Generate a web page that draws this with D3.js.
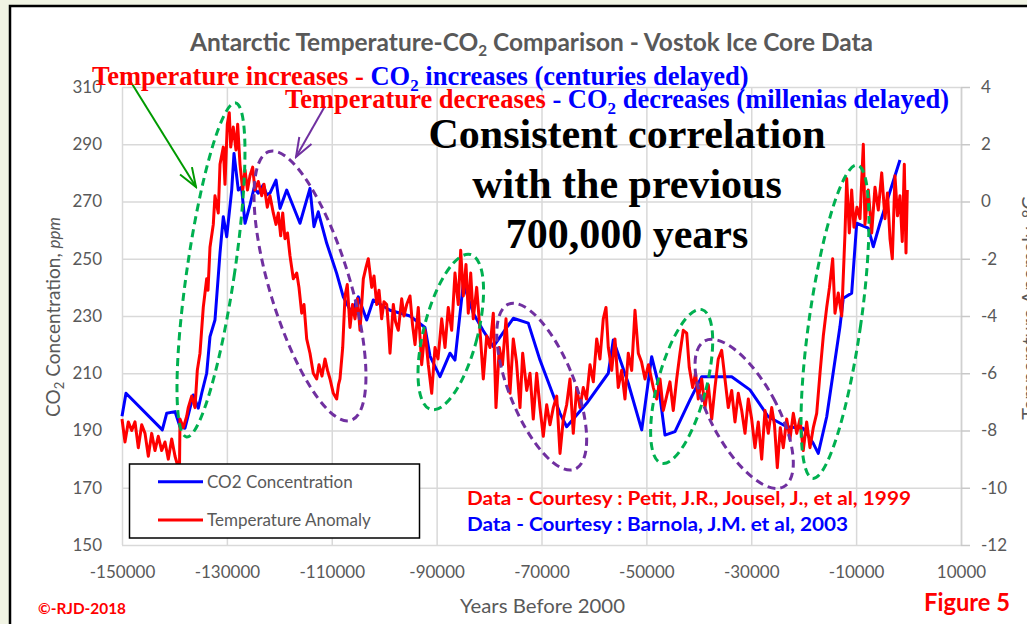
<!DOCTYPE html>
<html><head><meta charset="utf-8">
<script src="https://cdn.jsdelivr.net/npm/d3@7/dist/d3.min.js"></script>
<style>
html,body{margin:0;padding:0;background:#f1f4e4;overflow:hidden;}
svg{display:block;}
</style></head><body>
<svg id="c" width="1027" height="624"></svg>
<script>
// ---------------- DATA ----------------
const seriesNames = ["CO2 Concentration", "Temperature Anomaly"];
const xTicks = [-150000,-130000,-110000,-90000,-70000,-50000,-30000,-10000,10000];
const leftTicks = [150,170,190,210,230,250,270,290,310];
const rightTicks = [-12,-10,-8,-6,-4,-2,0,2,4];

// CO2 (ppm) - Barnola et al. 2003
const co2Years = [
-150000,-149240,-142310,-141480,-139890,-138940,-137990,-136400,-135450,-134800,
-133850,-133220,-132270,-131310,-130680,-130030,-129080,-128640,-127820,-127210,
-126540,-125590,-124830,-124010,-123050,-122410,-121780,-120630,-119870,-118590,
-116060,-114150,-113390,-112570,-110960,-109060,-107800,-106200,-104940,-103340,
-102080,-98890,-95080,-92220,-91260,-89360,-87450,-86500,-84910,-83010,
-81160,-79190,-75380,-72520,-70290,-66470,-65200,-61380,-57260,-56310,
-53450,-50890,-48990,-47730,-46450,-44540,-41680,-39450,-33730,-30240,
-26750,-23240,-20080,-18170,-17220,-15610,-13080,-12450,-10850,-9890,
-7680,-6730,-5450,-1640];
const co2Values = [
195,203,190.2,196,196.6,191.3,190.8,202.4,197.8,203,
210,222.8,228.6,252,264.7,257.7,274,286.8,274,275,
262.4,268.8,274.6,272.9,275.8,272.3,272.9,277.5,267.6,274,
262.4,274.6,261.2,266.4,255.4,244.9,236.7,231,236.7,228.6,
235.6,232,230,226,216,208.8,217,214.6,241.4,231,
225,219.3,229.2,227.5,214.6,196,191.3,199.5,210,221.6,
206.5,190.2,215.8,206.5,188.4,189.6,200.7,208.8,208.8,204.2,
194.8,191.3,190.8,185.5,182,194.8,226.3,236.2,238,262.4,
260.7,254.2,262.4,284.5];

// Temperature anomaly (deg C) - Petit et al. 1999
const tempYears = [
-150000,-149430,-148800,-148150,-147520,-146890,-146240,-145610,-144980,-144340,
-143710,-143080,-142430,-141800,-141170,-140520,-139890,-139260,-139030,-138940,
-138310,-137660,-137360,-136710,-136080,-135640,-135130,-134500,-133850,-133600,
-133220,-132590,-132270,-131640,-131310,-130680,-130360,-129920,-129540,-129270,
-128780,-128260,-127940,-127500,-126980,-126540,-126070,-125590,-125080,-124640,
-124010,-123360,-122920,-122290,-121780,-121150,-120630,-120190,-119740,-119350,
-118920,-118440,-117960,-117330,-116680,-116250,-115730,-115290,-114780,-114150,
-113520,-112870,-112430,-111860,-111290,-110810,-110330,-109700,-109060,-108710,
-108430,-107910,-107470,-107040,-106520,-106040,-105570,-105090,-104610,-103980,
-103470,-103030,-102380,-101940,-101430,-100990,-100480,-100040,-99520,-99180,
-98890,-98260,-97840,-97310,-96660,-96220,-95710,-95080,-94600,-94120,
-93500,-92850,-92220,-91590,-90940,-90310,-89740,-89030,-88400,-87780,
-87130,-86500,-85870,-85410,-84910,-84400,-83960,-83500,-83010,-82360,
-81730,-81100,-80450,-79820,-79190,-78680,-78050,-77440,-76770,-76010,
-75380,-74770,-74100,-73590,-72820,-72190,-71570,-70920,-70290,-69660,
-69010,-68380,-67750,-67100,-66470,-65840,-65200,-64570,-63940,-63290,
-62660,-62030,-61420,-60750,-60120,-59470,-58850,-58220,-57700,-57260,
-56610,-55990,-55360,-54710,-54080,-53450,-52800,-52170,-51540,-50930,
-50260,-49600,-48680,-48030,-47400,-46770,-46130,-45500,-44870,-44220,
-43590,-42960,-42310,-41820,-41170,-40630,-40100,-39450,-38820,-38190,
-37540,-36920,-36290,-35640,-35010,-34380,-33730,-33100,-32470,-31820,
-31190,-30560,-29920,-29290,-28660,-28010,-27380,-26750,-26100,-25570,
-25030,-24460,-23890,-23240,-22610,-21980,-21330,-20710,-20080,-19430,
-18800,-18170,-17520,-16890,-16260,-15610,-15080,-14470,-14030,-13400,
-12750,-12120,-11800,-11300,-10850,-10410,-9840,-9260,-8630,-8310,
-7680,-7030,-6400,-5770,-5120,-4500,-4020,-3540,-3100,-2590,
-2110,-1640,-1200,-810,-490,-240];
const tempValues = [
-7.6,-8.4,-7.7,-8.0,-7.7,-8.6,-7.8,-8.1,-8.9,-8.1,
-8.7,-8.2,-8.7,-8.4,-9.0,-8.3,-8.9,-9.3,-9.2,-7.6,
-7.9,-7.5,-7.2,-6.8,-7.2,-5.9,-5.3,-3.7,-2.7,-3.1,
-1.6,-0.8,0.2,-0.4,1.3,1.9,0.6,2.7,3.1,1.9,
2.6,1.8,2.7,1.3,0.4,1.1,0.4,0.9,1.2,0.4,
0.7,0.2,0.6,-0.2,0.2,-0.4,-0.8,-0.4,-1.2,-0.4,
-1.3,-1.1,-1.9,-2.7,-2.5,-3.0,-3.9,-3.6,-4.8,-5.3,
-6.0,-6.2,-5.7,-6.1,-5.5,-5.9,-6.2,-6.7,-6.9,-6.4,
-6.2,-5.1,-3.3,-2.9,-4.4,-3.6,-4.1,-3.4,-4.5,-2.7,
-2.3,-2.0,-3.0,-2.6,-3.6,-3.1,-4.1,-3.5,-3.6,-4.4,
-5.3,-3.6,-4.2,-4.5,-3.4,-4.0,-3.6,-3.3,-4.3,-5.0,
-3.7,-5.7,-4.5,-5.7,-6.7,-5.1,-5.5,-4.1,-5.1,-3.7,
-4.5,-2.5,-3.6,-1.7,-3.3,-2.2,-3.9,-2.5,-4.1,-3.0,
-4.5,-6.2,-4.7,-5.1,-3.9,-7.2,-5.1,-5.7,-4.1,-6.7,
-4.8,-5.6,-7.2,-5.3,-6.6,-6.0,-7.6,-6.0,-7.2,-8.2,
-7.1,-7.8,-7.2,-6.8,-8.8,-7.6,-7.1,-6.2,-8.1,-6.5,
-7.2,-6.5,-6.9,-5.7,-6.3,-4.8,-5.5,-4.1,-3.7,-5.1,
-5.9,-4.8,-6.5,-5.9,-6.9,-5.3,-5.9,-3.8,-5.3,-5.6,
-6.2,-5.7,-6.5,-6.9,-6.2,-7.3,-6.8,-6.3,-7.3,-6.2,
-5.3,-4.5,-4.6,-5.8,-6.5,-6.0,-6.9,-6.2,-7.2,-6.4,
-7.6,-6.5,-5.5,-5.2,-6.2,-7.2,-6.6,-7.7,-6.7,-7.3,
-8.1,-6.9,-7.6,-8.6,-7.7,-9.0,-7.3,-8.1,-7.2,-7.8,
-9.3,-7.9,-8.6,-7.6,-8.3,-7.4,-8.1,-7.6,-8.7,-7.7,
-8.6,-7.9,-7.4,-6.0,-4.7,-3.7,-3.0,-2.0,-3.9,-3.2,
-4.0,-1.1,0.8,-1.1,0.4,-0.9,-0.2,-0.6,2.0,-0.8,
0.4,-1.1,0.5,-0.3,1.0,-0.6,0.3,-1.3,-2.0,0.9,
-0.5,0.2,-1.4,1.3,-1.8,0.4];

// ---------------- LAYOUT ----------------
const svg = d3.select("#c");
const M = {l:122, r:961, t:87, b:545};
const x = d3.scaleLinear().domain([-150000,10000]).range([M.l, M.r]);
const yL = d3.scaleLinear().domain([150,310]).range([M.b, M.t]);
const yR = d3.scaleLinear().domain([-12,4]).range([M.b, M.t]);

const GRAY = "#595959", RED = "#ff0000", BLUE = "#0000ff";
const SANS = "Lato, 'Open Sans', sans-serif";
const SERIF = "'Liberation Serif', 'Times New Roman', serif";

// panel
svg.append("rect").attr("x",10).attr("y",6).attr("width",1040).attr("height",640)
  .attr("fill","#fff").attr("stroke","#000").attr("stroke-width",2.5);

// gridlines
svg.append("g").attr("transform",`translate(${M.l},0)`)
  .call(d3.axisLeft(yL).tickValues(leftTicks).tickSize(-(M.r-M.l)).tickFormat(""))
  .call(g=>g.select(".domain").remove())
  .call(g=>g.selectAll("line").attr("stroke","#d9d9d9").attr("stroke-width",1.5));
svg.append("g").attr("transform",`translate(0,${M.b})`)
  .call(d3.axisBottom(x).tickValues(xTicks).tickSize(-(M.b-M.t)).tickFormat(""))
  .call(g=>g.select(".domain").remove())
  .call(g=>g.selectAll("line").attr("stroke","#d9d9d9").attr("stroke-width",1.5));

// axes labels
const axL = svg.append("g").attr("transform",`translate(${M.l},0)`)
  .call(d3.axisLeft(yL).tickValues(leftTicks).tickSize(0).tickPadding(20).tickFormat(d=>String(d)));
const axR = svg.append("g").attr("transform",`translate(${M.r},0)`)
  .call(d3.axisRight(yR).tickValues(rightTicks).tickSize(9).tickSizeOuter(0).tickPadding(11).tickFormat(d=>String(d)));
const axB = svg.append("g").attr("transform",`translate(0,${M.b})`)
  .call(d3.axisBottom(x).tickValues(xTicks).tickSize(0).tickPadding(21).tickFormat(d=>String(d)));
[axL,axR,axB].forEach(a=>{
  a.selectAll("text").attr("fill",GRAY).attr("font-family",SANS).attr("font-size",17);
  a.select(".domain").attr("stroke","#d0d0d0").attr("stroke-width",1.5);
  a.selectAll(".tick line").attr("stroke","#c8c8c8").attr("stroke-width",1.5);
});
axL.select(".domain").remove();
axB.select(".domain").remove();

// series
const co2Data = co2Years.map((d,i)=>[d, co2Values[i]]);
const tempData = tempYears.map((d,i)=>[d, tempValues[i]]);
svg.append("path").datum(co2Data)
  .attr("d", d3.line().x(d=>x(d[0])).y(d=>yL(d[1])))
  .attr("fill","none").attr("stroke",BLUE).attr("stroke-width",3).attr("stroke-linejoin","round");
svg.append("path").datum(tempData)
  .attr("d", d3.line().x(d=>x(d[0])).y(d=>yR(d[1])))
  .attr("fill","none").attr("stroke",RED).attr("stroke-width",3).attr("stroke-linejoin","round");

// ---------------- ANNOTATIONS ----------------
// dashed ellipses (centre in data units, radii in px, rotation in deg)
const ellipses = [
  {year:-133030, ppm:246.1, rx:23.8, ry:168.8, rot:8.35,  color:"#00b050"},
  {year:-114150, ppm:240.5, rx:40,   ry:140.5, rot:-16.9, color:"#7030a0"},
  {year:-87300,  ppm:224.4, rx:27,   ry:80,    rot:14.3,  color:"#00b050"},
  {year:-69960,  ppm:205.3, rx:32.7, ry:88.9,  rot:-21.9, color:"#7030a0"},
  {year:-43270,  ppm:205.4, rx:24.3, ry:79.4,  rot:14.8,  color:"#00b050"},
  {year:-31350,  ppm:195.8, rx:33.2, ry:82.9,  rot:-28.5, color:"#7030a0"},
  {year:-14030,  ppm:228.0, rx:25.9, ry:158.2, rot:8.1,   color:"#00b050"}
];
svg.append("g").selectAll("ellipse").data(ellipses).join("ellipse")
  .attr("transform",d=>`translate(${x(d.year)},${yL(d.ppm)}) rotate(${d.rot})`)
  .attr("rx",d=>d.rx).attr("ry",d=>d.ry)
  .attr("fill","none").attr("stroke",d=>d.color).attr("stroke-width",3)
  .attr("stroke-dasharray","8,5");

// arrows
const defs = svg.append("defs");
function marker(id,color){
  defs.append("marker").attr("id",id).attr("viewBox","-22 -10 24 20")
    .attr("refX",0).attr("refY",0).attr("markerWidth",24).attr("markerHeight",20)
    .attr("markerUnits","userSpaceOnUse").attr("orient","auto")
    .append("path").attr("d","M-19,-7 L0,0 L-19,7").attr("fill","none")
    .attr("stroke",color).attr("stroke-width",2).attr("stroke-linejoin","miter");
}
marker("ag","#009a00"); marker("ap","#7030a0");
svg.append("line").attr("x1",129).attr("y1",79).attr("x2",196).attr("y2",187)
  .attr("stroke","#009a00").attr("stroke-width",2).attr("marker-end","url(#ag)");
svg.append("line").attr("x1",325).attr("y1",106).attr("x2",296).attr("y2",157)
  .attr("stroke","#7030a0").attr("stroke-width",2).attr("marker-end","url(#ap)");

// title
const title = svg.append("text").attr("x",190).attr("y",51)
  .attr("font-family",SANS).attr("font-weight",700).attr("font-size",24).attr("fill",GRAY)
  .attr("textLength",683).attr("lengthAdjust","spacingAndGlyphs");
title.append("tspan").text("Antarctic Temperature-CO");
title.append("tspan").attr("font-size",15).attr("dy",5).text("2");
title.append("tspan").attr("dy",-5).text(" Comparison - Vostok Ice Core Data");

// serif annotation lines
function anno(xp, yp, parts){
  const t = svg.append("text").attr("x",xp).attr("y",yp)
    .attr("font-family",SERIF).attr("font-weight",700).attr("font-size",26.5);
  parts.forEach(p=>{
    const s = t.append("tspan").attr("fill",p.c).text(p.t);
    if(p.sub){ s.attr("font-size",17).attr("dy",6); }
    if(p.after){ s.attr("dy",-6); }
  });
}
anno(92, 85, [
  {t:"Temperature increases - ", c:RED},
  {t:"CO", c:BLUE},
  {t:"2", c:BLUE, sub:true},
  {t:" increases (centuries delayed)", c:BLUE, after:true}
]);
anno(285, 108, [
  {t:"Temperature decreases ", c:RED},
  {t:"- CO", c:BLUE},
  {t:"2", c:BLUE, sub:true},
  {t:" decreases (millenias delayed)", c:BLUE, after:true}
]);

const big = ["Consistent correlation","with the previous","700,000 years"];
svg.append("g").selectAll("text").data(big).join("text")
  .attr("x",627).attr("y",(d,i)=>148+i*50).attr("text-anchor","middle")
  .attr("font-family",SERIF).attr("font-weight",700).attr("font-size",42).attr("fill","#000")
  .text(d=>d);

// axis titles
const yt = svg.append("text").attr("transform","translate(60,317) rotate(-90)")
  .attr("text-anchor","middle").attr("font-family",SANS).attr("font-size",19).attr("fill",GRAY);
yt.append("tspan").text("CO");
yt.append("tspan").attr("font-size",13).attr("dy",4).text("2");
yt.append("tspan").attr("dy",-4).text(" Concentration, ");
yt.append("tspan").attr("font-style","italic").attr("font-size",17).text("ppm");

svg.append("text").attr("transform","translate(1036,308) rotate(-90)")
  .attr("text-anchor","middle").attr("font-family",SANS).attr("font-size",20).attr("fill",GRAY)
  .text("Temperature Anomaly, \u00B0C");

svg.append("text").attr("x",542.5).attr("y",613).attr("text-anchor","middle")
  .attr("font-family",SANS).attr("font-size",20).attr("fill",GRAY)
  .attr("textLength",165).attr("lengthAdjust","spacingAndGlyphs")
  .text("Years Before 2000");

// legend
const lg = svg.append("g");
lg.append("rect").attr("x",129.5).attr("y",464).attr("width",290).attr("height",74)
  .attr("fill","#fff").attr("stroke","#000").attr("stroke-width",1.5);
const legItems = [{name:seriesNames[0], color:BLUE},{name:seriesNames[1], color:RED}];
const li = lg.selectAll("g").data(legItems).join("g")
  .attr("transform",(d,i)=>`translate(158,${481.7+i*38.3})`);
li.append("line").attr("x1",0).attr("x2",45).attr("stroke",d=>d.color).attr("stroke-width",3);
li.append("text").attr("x",49).attr("y",6).attr("font-family",SANS).attr("font-size",17)
  .attr("fill",GRAY).text(d=>d.name);

// credits
svg.append("text").attr("x",467).attr("y",505).attr("font-family",SANS).attr("font-weight",700)
  .attr("font-size",18).attr("fill",RED).attr("textLength",444).attr("lengthAdjust","spacingAndGlyphs")
  .text("Data - Courtesy : Petit, J.R., Jousel, J., et al, 1999");
svg.append("text").attr("x",467).attr("y",531).attr("font-family",SANS).attr("font-weight",700)
  .attr("font-size",18).attr("fill",BLUE).attr("textLength",381).attr("lengthAdjust","spacingAndGlyphs")
  .text("Data - Courtesy : Barnola, J.M. et al, 2003");
svg.append("text").attr("x",38).attr("y",614).attr("font-family",SANS).attr("font-weight",700)
  .attr("font-size",15).attr("fill",RED).attr("textLength",88).attr("lengthAdjust","spacingAndGlyphs")
  .text("\u00A9-RJD-2018");
svg.append("text").attr("x",924).attr("y",611).attr("font-family",SANS).attr("font-weight",700)
  .attr("font-size",24).attr("fill",RED).attr("textLength",86).attr("lengthAdjust","spacingAndGlyphs")
  .text("Figure 5");
</script>
</body></html>
